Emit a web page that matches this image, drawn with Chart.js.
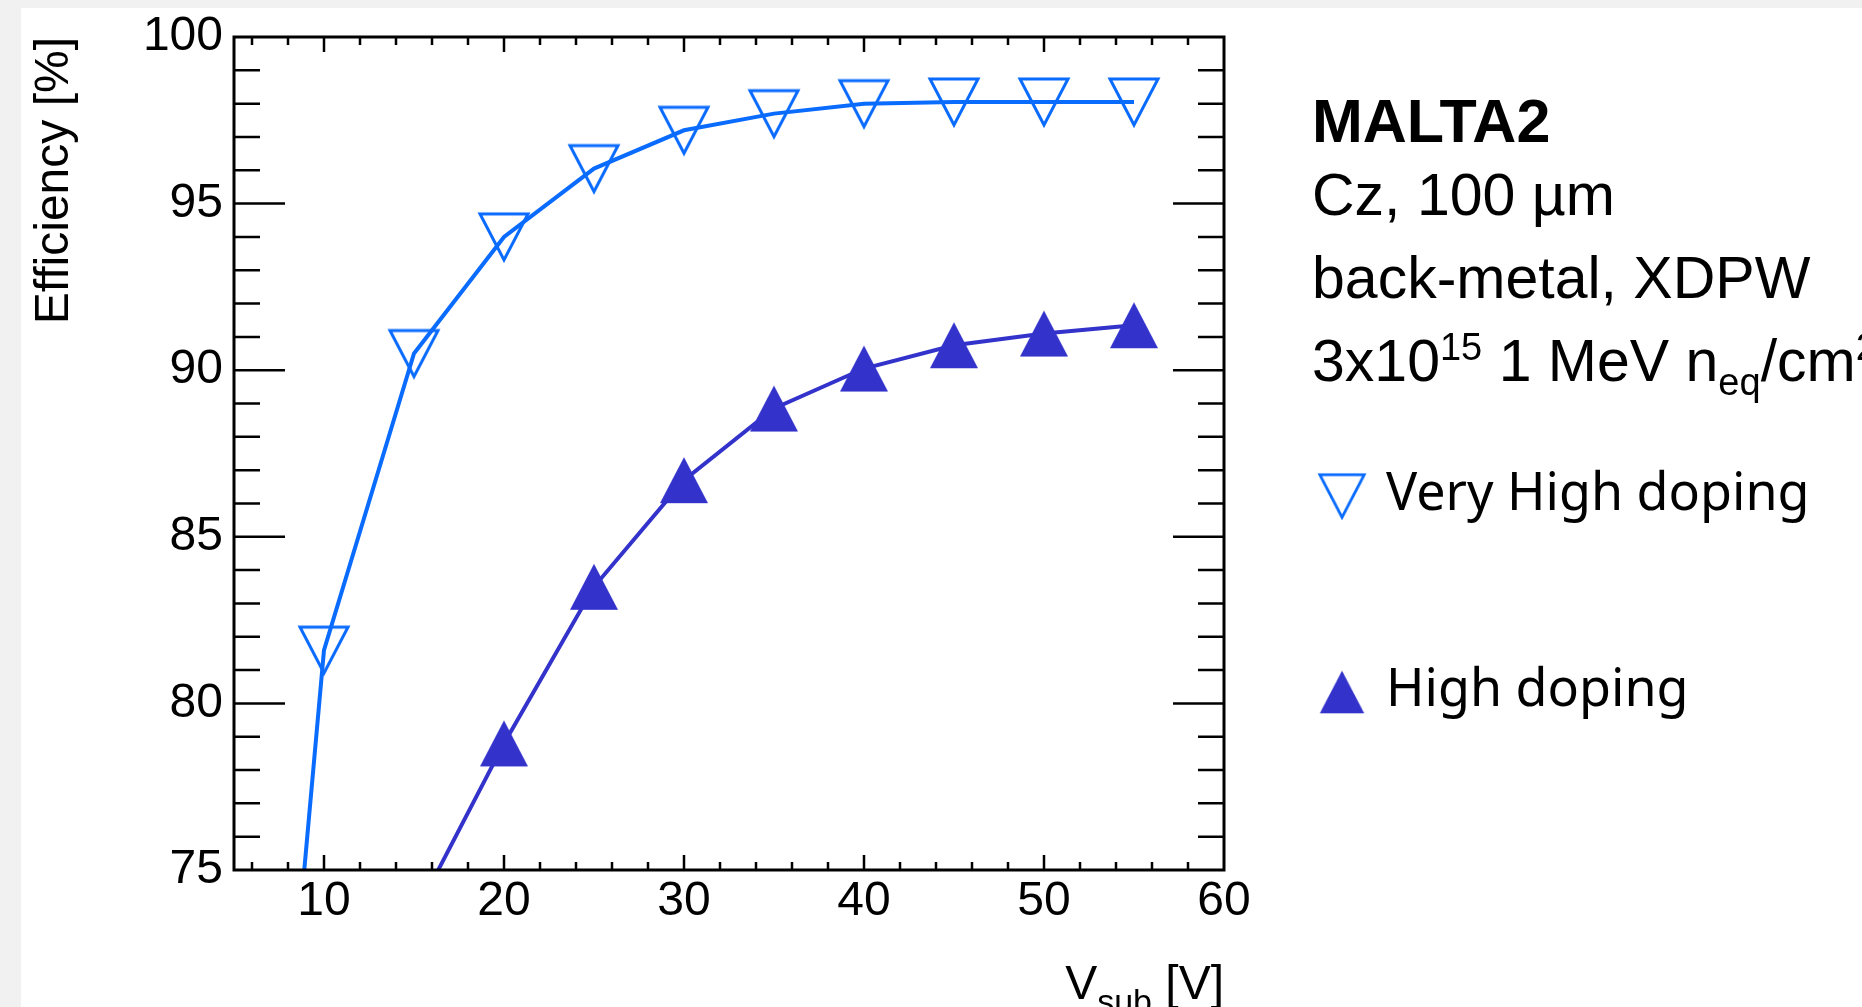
<!DOCTYPE html>
<html>
<head>
<meta charset="utf-8">
<title>MALTA2 efficiency vs substrate voltage</title>
<script src="https://cdn.jsdelivr.net/npm/chart.js@4.4.1/dist/chart.umd.min.js"></script>
<style>
  html, body { margin: 0; padding: 0; width: 1862px; height: 1007px; overflow: hidden; background: #f1f1f1; }
  #panel { position: absolute; left: 21px; top: 8px; width: 1841px; height: 999px; background: #fff; overflow: hidden; }
  #chart-box { position: absolute; left: 0; top: 0; width: 1841px; height: 999px; }
  .txt { position: absolute; left: 1291px; white-space: nowrap; line-height: 1; color: #000;
         font-family: 'Liberation Sans', Arial, sans-serif; font-size: 59px; }
  .sup, .sub { position: relative; font-size: 38px; }
  .sup { top: -21px; }
  .sub { top: 14px; }
  #xtitle { position: absolute; right: 638px; top: 951px; white-space: nowrap; line-height: 1;
            font-family: 'Liberation Sans', Arial, sans-serif; font-size: 48px; color: #000; }
  #xtitle span { position: relative; top: 14px; font-size: 34px; }
  .leg-mark { position: absolute; left: 1296px; width: 50px; height: 50px; }
  .leg-text { position: absolute; left: 1365px; white-space: nowrap; line-height: 1; color: #000;
              font-family: 'Noto Sans', 'Open Sans', sans-serif; font-size: 52px; }
</style>
</head>
<body>
<div id="panel">
  <div id="chart-box"><canvas id="eff"></canvas></div>
  <div class="txt" style="top:83px; font-weight:bold; font-size:61px;">MALTA2</div>
  <div class="txt" style="top:158px;">Cz, 100 µm</div>
  <div class="txt" style="top:241px;">back-metal, XDPW</div>
  <div class="txt" style="top:324px;">3x10<span class="sup">15</span> 1 MeV n<span class="sub">eq</span>/cm<span class="sup">2</span></div>
  <div id="xtitle">V<span>sub</span> [V]</div>
</div>
<script>
// data
const voltages = [5, 10, 15, 20, 25, 30, 35, 40, 45, 50, 55];
const veryHighDoping = [51.5, 81.6, 90.5, 94.0, 96.05, 97.2, 97.7, 98.0, 98.05, 98.05, 98.05];
const highDoping = [null, null, 73.6, 78.8, 83.5, 86.7, 88.85, 90.05, 90.75, 91.1, 91.35];
const seriesLabels = ['Very High doping', 'High doping'];
const xTicks = [10, 20, 30, 40, 50, 60];
const yTicks = [75, 80, 85, 90, 95, 100];

const FONT = "'Liberation Sans', Arial, sans-serif";
const VH_COLOR = '#0a6bff';
const HD_COLOR = '#3333cc';

// ROOT-like triangle markers, centred on their bounding box
function marker(kind, color) {
  const c = document.createElement('canvas');
  c.width = 54; c.height = 54;
  const g = c.getContext('2d');
  g.beginPath();
  if (kind === 'down') {
    g.moveTo(3, 4); g.lineTo(51, 4); g.lineTo(27, 50); g.closePath();
    g.strokeStyle = color; g.lineWidth = 3; g.stroke();
  } else {
    g.moveTo(27, 4); g.lineTo(51, 50); g.lineTo(3, 50); g.closePath();
    g.fillStyle = color; g.fill();
  }
  return c;
}

function toPoints(vals) {
  return voltages.map((v, i) => ({x: v, y: vals[i]})).filter(p => p.y !== null);
}

// frame with inward ticks on all four sides
const frameTicks = {
  id: 'frameTicks',
  afterDatasetsDraw(chart) {
    const {ctx, chartArea: a, scales: {x, y}} = chart;
    ctx.save();
    ctx.strokeStyle = '#000';
    ctx.lineWidth = 2.5;
    ctx.beginPath();
    for (let v = 76; v < 100; v++) {
      const py = y.getPixelForValue(v);
      const len = yTicks.includes(v) ? 51 : 26;
      ctx.moveTo(a.left, py); ctx.lineTo(a.left + len, py);
      ctx.moveTo(a.right, py); ctx.lineTo(a.right - len, py);
    }
    for (let v = 6; v < 60; v += 2) {
      const px = x.getPixelForValue(v);
      const len = xTicks.includes(v) ? 15 : 8;
      ctx.moveTo(px, a.bottom); ctx.lineTo(px, a.bottom - len);
      ctx.moveTo(px, a.top); ctx.lineTo(px, a.top + len);
    }
    ctx.stroke();
    ctx.lineWidth = 3;
    ctx.strokeRect(a.left, a.top, a.right - a.left, a.bottom - a.top);
    ctx.restore();
  }
};

const chart = new Chart(document.getElementById('eff'), {
  type: 'line',
  data: {
    datasets: [
      {
        label: seriesLabels[0],
        data: toPoints(veryHighDoping),
        borderColor: VH_COLOR,
        borderWidth: 4,
        pointStyle: marker('down', VH_COLOR),
        pointRadius: 10,
        tension: 0,
        fill: false
      },
      {
        label: seriesLabels[1],
        data: toPoints(highDoping),
        borderColor: HD_COLOR,
        borderWidth: 4,
        pointStyle: marker('up', HD_COLOR),
        pointRadius: 10,
        tension: 0,
        fill: false
      }
    ]
  },
  options: {
    responsive: true,
    maintainAspectRatio: false,
    animation: false,
    events: [],
    layout: { padding: { top: 29, right: 638, bottom: 0, left: 0 } },
    plugins: {
      legend: { display: false },
      tooltip: { enabled: false }
    },
    scales: {
      x: {
        type: 'linear',
        min: 5,
        max: 60,
        grid: { display: false, drawTicks: false },
        border: { display: false },
        ticks: { autoSkip: false, padding: 3, color: '#000', font: { family: FONT, size: 48 } },
        afterBuildTicks: s => { s.ticks = xTicks.map(v => ({value: v})); },
        afterFit: s => { s.height = 137; s.paddingLeft = 0; s.paddingRight = 0; }
      },
      y: {
        type: 'linear',
        min: 75,
        max: 100,
        grid: { display: false, drawTicks: false },
        border: { display: false },
        ticks: { autoSkip: false, padding: 11, color: '#000', font: { family: FONT, size: 48 } },
        title: {
          display: true,
          text: 'Efficiency [%]',
          align: 'end',
          color: '#000',
          font: { family: FONT, size: 48 },
          padding: { top: 5, bottom: 0 }
        },
        afterBuildTicks: s => { s.ticks = yTicks.map(v => ({value: v})); },
        afterFit: s => { s.width = 213; s.paddingTop = 0; s.paddingBottom = 0; }
      }
    }
  },
  plugins: [frameTicks]
});

// legend on the right, built from the datasets
const panel = document.getElementById('panel');
chart.data.datasets.forEach((ds, i) => {
  const baseline = 503 + i * 196;
  const m = marker(i === 0 ? 'down' : 'up', ds.borderColor);
  m.className = 'leg-mark';
  m.style.top = (baseline - 40) + 'px';
  panel.appendChild(m);
  const t = document.createElement('div');
  t.className = 'leg-text';
  t.style.top = (baseline - 47) + 'px';
  t.textContent = ds.label;
  panel.appendChild(t);
});
</script>
</body>
</html>
